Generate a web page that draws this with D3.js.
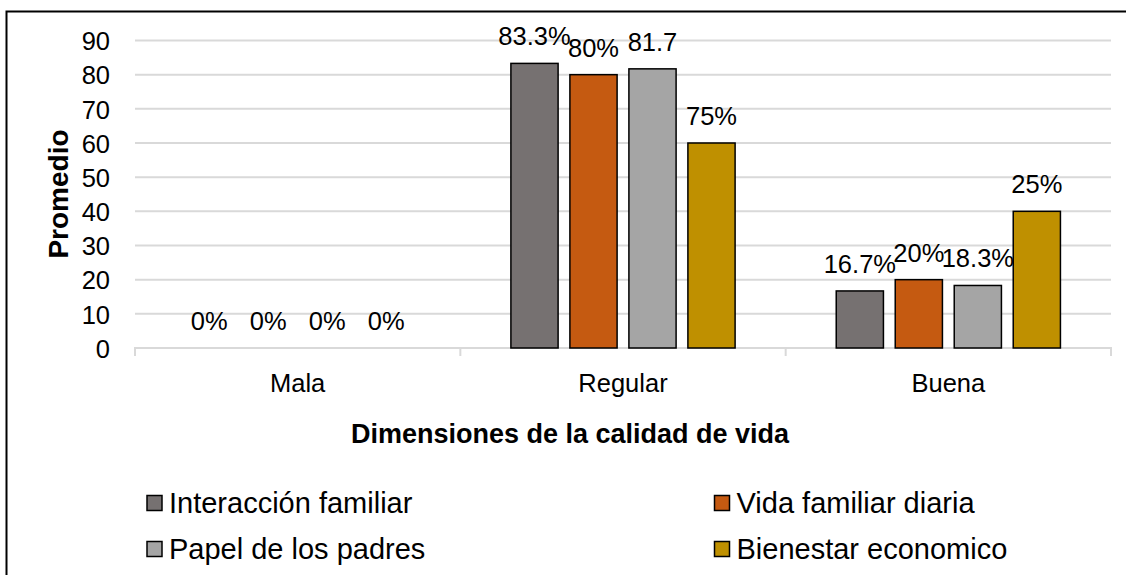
<!DOCTYPE html>
<html>
<head>
<meta charset="utf-8">
<script src="https://cdn.jsdelivr.net/npm/d3@7"></script>
<style>
  body { margin: 0; background: #fff; }
  text { font-family: Arial, "Liberation Sans", sans-serif; fill: #000; }
</style>
</head>
<body>
<div id="chart"></div>
<script>
// data
const categories = ["Mala", "Regular", "Buena"];
const seriesNames = ["Interacción familiar", "Vida familiar diaria", "Papel de los padres", "Bienestar economico"];
const seriesColors = ["#767171", "#c55a11", "#a5a5a5", "#bf9000"];
// bar heights per series, one value per category
const interaccion = [0, 83.3, 16.7];
const vidaDiaria = [0, 80, 20];
const papelPadres = [0, 81.7, 18.3];
const bienestar = [0, 60, 40];
// data label texts as printed in the chart
const labelsInteraccion = ["0%", "83.3%", "16.7%"];
const labelsVida = ["0%", "80%", "20%"];
const labelsPapel = ["0%", "81.7", "18.3%"];
const labelsBienestar = ["0%", "75%", "25%"];
const yTicks = [0, 10, 20, 30, 40, 50, 60, 70, 80, 90];

const values = [interaccion, vidaDiaria, papelPadres, bienestar];
const labels = [labelsInteraccion, labelsVida, labelsPapel, labelsBienestar];

const w = 1126, h = 575;
const plotLeft = 135, plotRight = 1111, plotTop = 40.5, plotBottom = 348;

const svg = d3.select("#chart").append("svg")
  .attr("width", w).attr("height", h);

// outer frame (right and bottom fall outside the picture)
svg.append("rect")
  .attr("x", 6.5).attr("y", 11.5)
  .attr("width", w + 20).attr("height", h + 20)
  .attr("fill", "none").attr("stroke", "#000").attr("stroke-width", 2);

const x0 = d3.scaleBand().domain(categories).range([plotLeft, plotRight]);
const x1 = d3.scaleBand().domain(d3.range(seriesNames.length))
  .range([-118, 118]).paddingInner(0.2).paddingOuter(0.1);
const y = d3.scaleLinear().domain([0, 90]).range([plotBottom, plotTop]);

// gridlines
svg.append("g").selectAll("line")
  .data(yTicks.slice(1))
  .enter().append("line")
  .attr("x1", plotLeft).attr("x2", plotRight)
  .attr("y1", d => y(d)).attr("y2", d => y(d))
  .attr("stroke", "#d9d9d9").attr("stroke-width", 2);

// y axis labels
const yAxis = d3.axisLeft(y).tickValues(yTicks).tickSize(0).tickPadding(25);
const gy = svg.append("g").attr("transform", "translate(" + plotLeft + ",0)").call(yAxis);
gy.select(".domain").remove();
gy.selectAll("text")
  .style("font-size", "25.5px")
  .style("font-family", "Arial, 'Liberation Sans', sans-serif")
  .attr("dy", "0.36em");

// x axis line with category boundary ticks
const xAxis = d3.axisBottom(x0).tickSize(0).tickPadding(20);
const gx = svg.append("g").attr("transform", "translate(0," + plotBottom + ")").call(xAxis);
gx.select(".domain").attr("stroke", "#d9d9d9").attr("stroke-width", 2)
  .attr("d", "M" + plotLeft + ",8V0H" + plotRight + "V8");
gx.selectAll("text")
  .style("font-size", "25.5px")
  .style("font-family", "Arial, 'Liberation Sans', sans-serif")
  .attr("y", 0).attr("dy", 44);
gx.selectAll(".bnd").data(categories.slice(1)).enter().append("line")
  .attr("x1", d => x0(d)).attr("x2", d => x0(d))
  .attr("y1", 0).attr("y2", 8)
  .attr("stroke", "#d9d9d9").attr("stroke-width", 2);

// bars
const groups = svg.append("g").selectAll("g")
  .data(categories)
  .enter().append("g")
  .attr("transform", d => "translate(" + (x0(d) + x0.bandwidth() / 2) + ",0)");

groups.selectAll("rect")
  .data((c, ci) => values.map((s, si) => ({ si: si, v: s[ci] })))
  .enter().append("rect")
  .filter(d => d.v > 0)
  .attr("x", d => x1(d.si))
  .attr("y", d => y(d.v))
  .attr("width", x1.bandwidth())
  .attr("height", d => y(0) - y(d.v))
  .attr("fill", d => seriesColors[d.si])
  .attr("stroke", "#000").attr("stroke-width", 1.5);

groups.selectAll("text")
  .data((c, ci) => values.map((s, si) => ({ si: si, v: s[ci], t: labels[si][ci] })))
  .enter().append("text")
  .attr("x", d => x1(d.si) + x1.bandwidth() / 2)
  .attr("y", d => y(d.v) - 18)
  .attr("text-anchor", "middle")
  .style("font-size", "25.5px")
  .text(d => d.t);

// axis titles
svg.append("text")
  .attr("x", (plotLeft + plotRight) / 2 - 53).attr("y", 443)
  .attr("text-anchor", "middle")
  .style("font-size", "27px").style("font-weight", "bold")
  .text("Dimensiones de la calidad de vida");

svg.append("text")
  .attr("transform", "translate(68,194) rotate(-90)")
  .attr("text-anchor", "middle")
  .style("font-size", "28px").style("font-weight", "bold")
  .text("Promedio");

// legend
const legendPos = [[147, 503], [714.5, 503], [147, 549], [714.5, 549]];
const legend = svg.append("g").selectAll("g")
  .data(seriesNames)
  .enter().append("g")
  .attr("transform", (d, i) => "translate(" + legendPos[i][0] + "," + legendPos[i][1] + ")");
legend.append("rect")
  .attr("x", 0).attr("y", -7.5).attr("width", 15).attr("height", 15)
  .attr("fill", (d, i) => seriesColors[i])
  .attr("stroke", "#000").attr("stroke-width", 1.5);
legend.append("text")
  .attr("x", 22).attr("y", 10)
  .style("font-size", "29px")
  .text(d => d);
</script>
</body>
</html>
